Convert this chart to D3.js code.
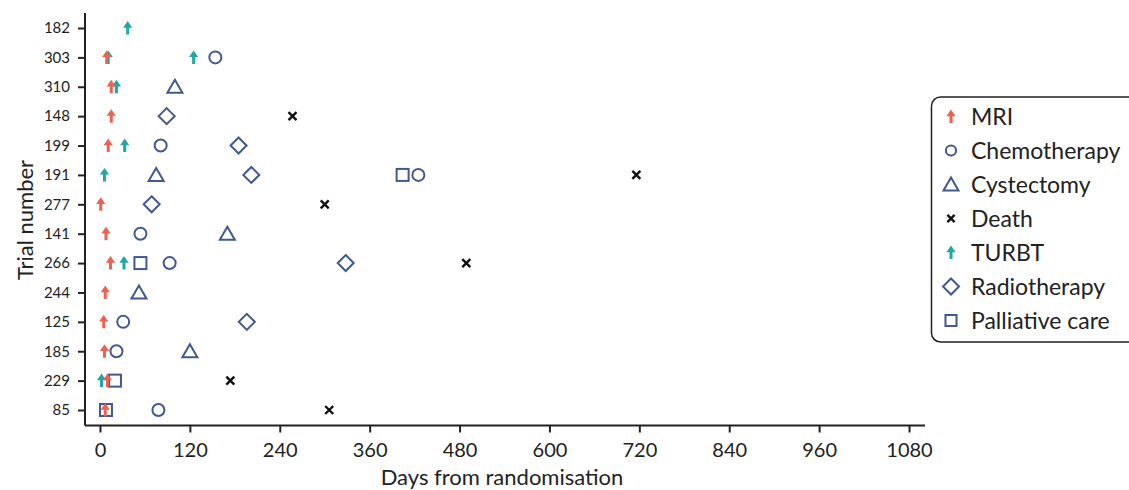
<!DOCTYPE html>
<html><head><meta charset="utf-8">
<script src="https://cdn.jsdelivr.net/npm/d3@7"></script>
<style>
body{margin:0;background:#fff;}
text{font-family:Lato,"Open Sans",sans-serif;fill:#222;}
</style></head>
<body><svg id="c" width="1129" height="490"></svg>
<script>
const trials = ["182","303","310","148","199","191","277","141","266","244","125","185","229","85"];
const xTicks = [0,120,240,360,480,600,720,840,960,1080];
const seriesNames = ["MRI","Chemotherapy","Cystectomy","Death","TURBT","Radiotherapy","Palliative care"];
// [trial, day]
const mri = [["303",9],["310",15],["148",15],["199",11],["277",1],["141",8],["266",14],["244",7],["125",5],["185",6],["229",10],["85",7]];
const chemo = [["303",154],["199",81],["191",425],["141",54],["266",93],["125",31],["185",22],["85",78]];
const cystectomy = [["310",100],["191",75],["141",170],["244",52],["185",120]];
const death = [["148",257],["191",716],["277",300],["266",489],["229",174],["85",306]];
const turbt = [["182",37],["303",11],["303",125],["310",22],["199",33],["191",6],["266",32],["229",2]];
const radiotherapy = [["148",89],["199",185],["191",202],["277",69],["266",328],["125",196]];
const palliative = [["191",404],["266",54],["229",20],["85",8]];

const RED="#ef6150", TEAL="#1fa8a6", BLUE="#40598f", BLACK="#111";
const svg = d3.select("#c");
const x = d3.scaleLinear().domain([-20,1100]).range([85,924]);
const y = d3.scalePoint().domain(trials).range([28,410]);

const arrow = s => {
  const p = d3.path();
  p.moveTo(0,-7*s); p.lineTo(4.6*s,-0.3*s); p.lineTo(1.5*s,-0.3*s); p.lineTo(1.5*s,6.5*s);
  p.lineTo(-1.5*s,6.5*s); p.lineTo(-1.5*s,-0.3*s); p.lineTo(-4.6*s,-0.3*s); p.closePath();
  return p.toString();
};
const shapes = {
  "MRI": {data:mri, draw:(g,s)=>g.append("path").attr("d",arrow(1)).attr("fill",RED)},
  "Chemotherapy": {data:chemo, draw:(g,s)=>g.append("circle").attr("r",6*s).attr("fill","none").attr("stroke",BLUE).attr("stroke-width",2)},
  "Cystectomy": {data:cystectomy, draw:(g,s)=>g.append("path").attr("d",`M0,${-7*s}L${7.5*s},${6*s}L${-7.5*s},${6*s}Z`).attr("fill","none").attr("stroke",BLUE).attr("stroke-width",2)},
  "Death": {data:death, draw:(g,s)=>g.append("path").attr("d",`M${-4*s},${-4*s}L${4*s},${4*s}M${4*s},${-4*s}L${-4*s},${4*s}`).attr("stroke",BLACK).attr("stroke-width",2.4)},
  "TURBT": {data:turbt, draw:(g,s)=>g.append("path").attr("d",arrow(1)).attr("fill",TEAL)},
  "Radiotherapy": {data:radiotherapy, draw:(g,s)=>g.append("path").attr("d",`M0,${-8*s}L${8*s},0L0,${8*s}L${-8*s},0Z`).attr("fill","none").attr("stroke",BLUE).attr("stroke-width",2)},
  "Palliative care": {data:palliative, draw:(g,s)=>g.append("rect").attr("x",-6*s).attr("y",-6*s).attr("width",12*s).attr("height",12*s).attr("fill","none").attr("stroke",BLUE).attr("stroke-width",2)}
};

// axes
const gx = svg.append("g").attr("transform","translate(0,425.5)")
  .call(d3.axisBottom(x).tickValues(xTicks).tickFormat(d3.format("d")).tickSize(7).tickPadding(10).tickSizeOuter(0));
const gy = svg.append("g").attr("transform","translate(85,0)")
  .call(d3.axisLeft(y).tickSize(7).tickPadding(8));
gy.select(".domain").attr("d","M0,13V425.5");
gx.select(".domain").attr("d","M85,0H925");
gx.attr("font-size",20).attr("font-family","Lato");
gy.attr("font-size",15).attr("font-family","Lato");
[gx,gy].forEach(g=>{
  g.selectAll(".domain").attr("stroke","#222").attr("stroke-width",2);
  g.selectAll(".tick line").attr("stroke","#222").attr("stroke-width",2);
  g.selectAll(".tick text").attr("fill","#222");
});

svg.append("text").attr("x",502).attr("y",485).attr("text-anchor","middle").attr("font-size",22).text("Days from randomisation");
svg.append("text").attr("transform","translate(33,220) rotate(-90)").attr("text-anchor","middle").attr("font-size",22).text("Trial number");

// marks
const order = ["Death","Radiotherapy","Chemotherapy","Cystectomy","Palliative care","TURBT","MRI"];
order.forEach(name=>{
  const sh = shapes[name];
  sh.data.forEach(d=>{
    const g = svg.append("g").attr("transform",`translate(${x(d[1])},${y(d[0])})`);
    sh.draw(g,1);
  });
});

// legend
const lg = svg.append("g");
lg.append("rect").attr("x",931.5).attr("y",97).attr("width",230).attr("height",245).attr("rx",9)
  .attr("fill","#fff").attr("stroke","#222").attr("stroke-width",1.5);
const legScale = {"MRI":1,"Chemotherapy":0.85,"Cystectomy":1,"Death":0.9,"TURBT":1,"Radiotherapy":1,"Palliative care":0.92};
seriesNames.forEach((n,i)=>{
  const yy = 116.5 + i*34;
  const g = lg.append("g").attr("transform",`translate(951,${yy})`);
  shapes[n].draw(g,legScale[n]);
  lg.append("text").attr("x",971).attr("y",yy).attr("dy","0.35em").attr("font-size",23).text(n);
});
</script></body></html>
